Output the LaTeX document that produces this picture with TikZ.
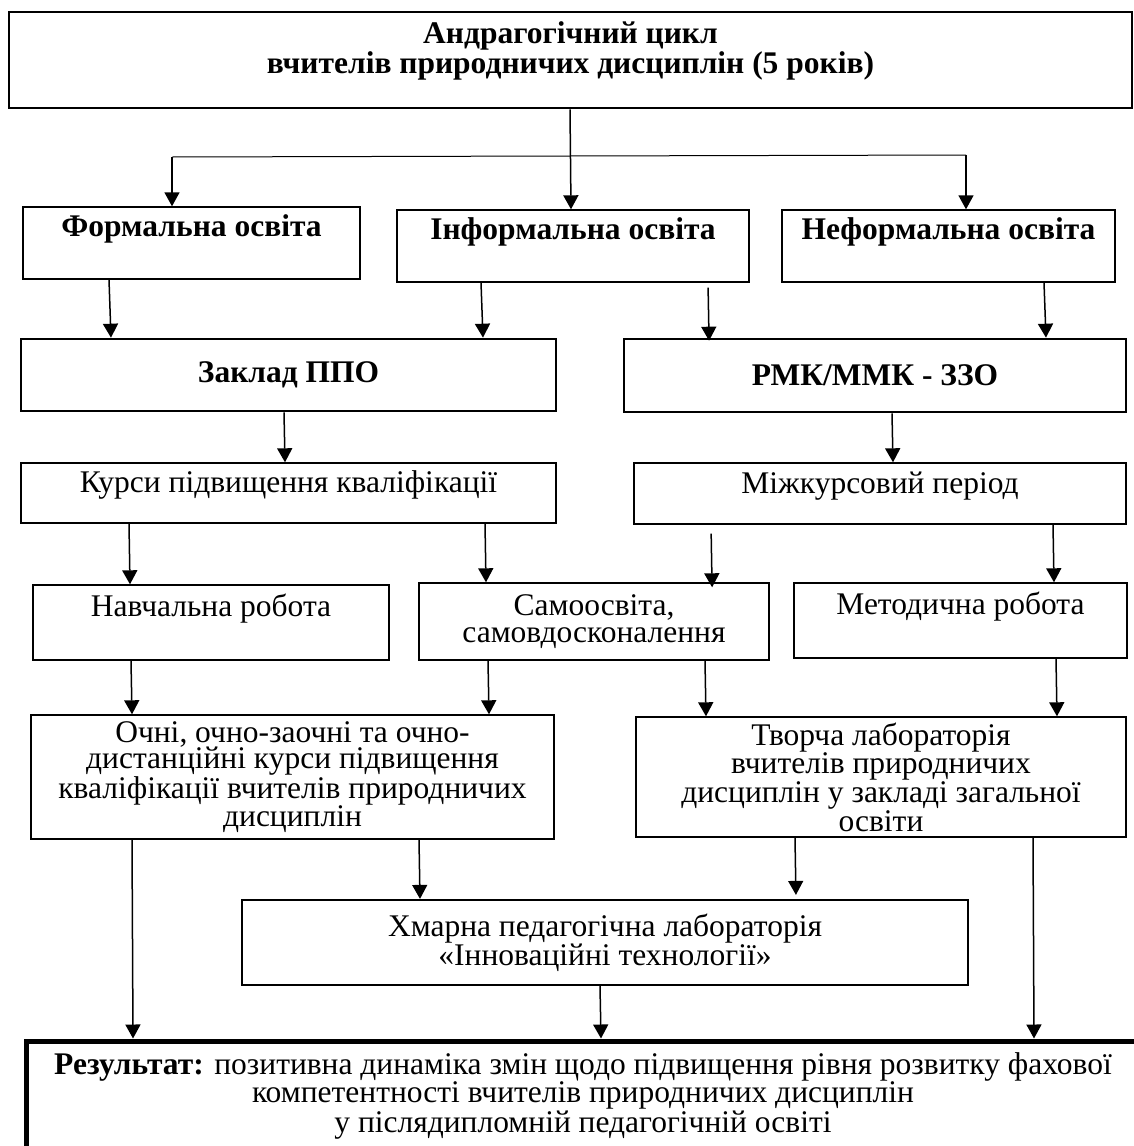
\documentclass[tikz,border=0pt]{standalone}
\usepackage{fontspec}
\setmainfont{Liberation Serif}
\usepackage{tikz}
\usetikzlibrary{arrows.meta}
\tikzset{
  block/.style={draw, line width=1.4pt, align=center, inner sep=0pt,
    font=\fontsize{31.5}{26.5}\selectfont},
  heavyblock/.style={block, line width=2.6pt},
  resultblock/.style={block, line width=5pt},
  flow/.style={-{Triangle[length=14pt,width=15pt]}, line width=1.5pt},
  bus/.style={line width=1pt}
}

\begin{document}
\begin{tikzpicture}[x=1pt, y=-1pt]
        \useasboundingbox (0,0) rectangle (1133,1146);
        \node[heavyblock, font=\fontsize{31.5}{27}\selectfont\bfseries, minimum width=1123pt, minimum height=96pt] (cycle) at (570.5,60) {Андрагогічний цикл\\вчителів природничих дисциплін (5 років)\\[-10pt]\strut};
        \node[block, font=\fontsize{31.5}{26.5}\selectfont\bfseries, minimum width=337pt, minimum height=72pt] (formal) at (191.5,243) {Формальна освіта\\\strut};
        \node[block, font=\fontsize{31.5}{26.5}\selectfont\bfseries, minimum width=352pt, minimum height=72pt] (informal) at (573,246) {Інформальна освіта\\\strut};
        \node[block, font=\fontsize{31.5}{26.5}\selectfont\bfseries, minimum width=333pt, minimum height=72pt] (nonformal) at (948.5,246) {Неформальна освіта\\\strut};
        \node[heavyblock, font=\fontsize{31.5}{26.5}\selectfont\bfseries, minimum width=535pt, minimum height=72pt] (ippo) at (288.5,375) {Заклад ППО};
        \node[heavyblock, font=\fontsize{31.5}{26.5}\selectfont\bfseries, minimum width=502pt, minimum height=73pt] (rmk) at (875,375.5) {РМК/ММК - ЗЗО};
        \node[block, minimum width=535pt, minimum height=60pt] (courses) at (288.5,493) {Курси підвищення кваліфікації\\[-12pt]\strut};
        \node[block, minimum width=492pt, minimum height=61pt] (intercourse) at (880,493.5) {Міжкурсовий період\\[-12pt]\strut};
        \node[block, minimum width=356pt, minimum height=75pt] (study) at (211,622.5) {Навчальна робота\\\strut};
        \node[block, minimum width=350pt, minimum height=77pt] (selfedu) at (594,621.5) {Самоосвіта,\\самовдосконалення};
        \node[block, minimum width=333pt, minimum height=75pt] (method) at (960.5,620.5) {Методична робота\\\strut};
        \node[block, minimum width=523pt, minimum height=124pt] (fulltime) at (292.5,777) {Очні, очно-заочні та очно-\\дистанційні курси підвищення\\кваліфікації вчителів природничих\\дисциплін};
        \node[block, minimum width=490pt, minimum height=120pt] (creative) at (881,777) {Творча лабораторія\\вчителів природничих\\дисциплін у закладі загальної\\освіти};
        \node[block, line width=2.2pt, minimum width=726pt, minimum height=85pt] (cloud) at (605,942.5) {Хмарна педагогічна лабораторія\\«Інноваційні технології»};
        \node[resultblock, minimum width=1114pt, minimum height=109pt] (result) at (583,1095.5) {\textbf{Результат:} позитивна динаміка змін щодо підвищення рівня розвитку фахової\\компетентності вчителів природничих дисциплін\\у післядипломній педагогічній освіті};
        % branching line under the cycle
        \coordinate (busL) at (172,157);
        \coordinate (busR) at (966,155);
        \draw[bus] (busL) -- (busR);
        \draw[flow] (busL) -- (formal.north -| busL);
        \draw[flow] (busR) -- (nonformal.north -| busR);
        \draw[flow] (cycle.south -| 570,0) -- (informal.north -| 571,0);
        % second row
        \draw[flow] (formal.south -| 109,0) -- (ippo.north -| 111,0);
        \draw[flow] (informal.south -| 481,0) -- (ippo.north -| 483,0);
        \draw[flow, shorten <=5pt, shorten >=-3pt] (informal.south -| 708,0) -- (rmk.north -| 709,0);
        \draw[flow] (nonformal.south -| 1044,0) -- (rmk.north -| 1046,0);
        % third row
        \draw[flow] (ippo.south -| 284,0) -- (courses.north -| 285,0);
        \draw[flow] (rmk.south -| 892,0) -- (intercourse.north -| 893,0);
        \draw[flow] (courses.south -| 129,0) -- (study.north -| 130,0);
        \draw[flow] (courses.south -| 485,0) -- (selfedu.north -| 486,0);
        \draw[flow, shorten <=9pt, shorten >=-5pt] (intercourse.south -| 711,0) -- (selfedu.north -| 712,0);
        \draw[flow] (intercourse.south -| 1053,0) -- (method.north -| 1054,0);
        % fourth row
        \draw[flow] (study.south -| 131,0) -- (fulltime.north -| 132,0);
        \draw[flow] (selfedu.south -| 488,0) -- (fulltime.north -| 489,0);
        \draw[flow] (selfedu.south -| 705,0) -- (creative.north -| 706,0);
        \draw[flow] (method.south -| 1056,0) -- (creative.north -| 1057,0);
        % towards the result
        \draw[flow] (fulltime.south -| 419,0) -- (cloud.north -| 420,0);
        \draw[flow, shorten >=4pt] (creative.south -| 795,0) -- (cloud.north -| 796,0);
        \draw[flow] (fulltime.south -| 132,0) -- (result.north -| 133,0);
        \draw[flow] (creative.south -| 1033,0) -- (result.north -| 1034,0);
        \draw[flow] (cloud.south -| 600,0) -- (result.north -| 601,0);
    \end{tikzpicture}
\end{document}
